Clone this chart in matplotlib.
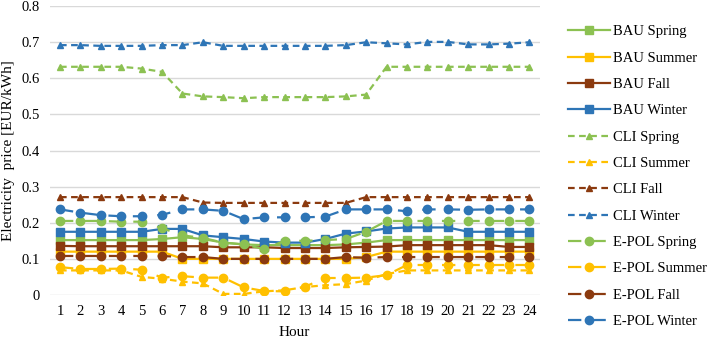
import matplotlib.pyplot as plt
import numpy as np

hours = list(range(1, 25))

bau_spring = [0.152, 0.152, 0.152, 0.152, 0.152, 0.155, 0.160, 0.155, 0.145, 0.140, 0.138, 0.138,
              0.138, 0.138, 0.140, 0.145, 0.152, 0.152, 0.152, 0.152, 0.152, 0.152, 0.152, 0.152]
bau_summer = [0.120, 0.120, 0.120, 0.120, 0.120, 0.120, 0.100, 0.100, 0.100, 0.100, 0.100, 0.100,
              0.100, 0.100, 0.100, 0.105, 0.120, 0.120, 0.120, 0.120, 0.120, 0.120, 0.120, 0.120]
bau_fall = [0.136, 0.135, 0.135, 0.135, 0.135, 0.135, 0.135, 0.135, 0.132, 0.132, 0.132, 0.130,
            0.130, 0.130, 0.132, 0.133, 0.134, 0.138, 0.138, 0.138, 0.138, 0.138, 0.133, 0.133]
bau_winter = [0.175, 0.175, 0.175, 0.175, 0.175, 0.183, 0.183, 0.165, 0.160, 0.155, 0.148, 0.145,
              0.145, 0.155, 0.170, 0.176, 0.184, 0.187, 0.187, 0.187, 0.175, 0.175, 0.175, 0.175]

cli_spring = [0.632, 0.632, 0.632, 0.632, 0.627, 0.618, 0.558, 0.550, 0.548, 0.545, 0.548, 0.548,
              0.548, 0.548, 0.550, 0.555, 0.632, 0.632, 0.632, 0.632, 0.632, 0.632, 0.632, 0.632]
cli_summer = [0.068, 0.068, 0.068, 0.068, 0.050, 0.045, 0.037, 0.032, 0.003, 0.003, 0.010, 0.013,
              0.022, 0.027, 0.030, 0.040, 0.058, 0.068, 0.068, 0.068, 0.068, 0.068, 0.068, 0.068]
cli_fall = [0.271, 0.271, 0.271, 0.271, 0.271, 0.271, 0.271, 0.256, 0.255, 0.255, 0.255, 0.255,
            0.255, 0.255, 0.255, 0.271, 0.271, 0.271, 0.271, 0.271, 0.271, 0.271, 0.271, 0.271]
cli_winter = [0.692, 0.692, 0.690, 0.690, 0.690, 0.692, 0.692, 0.700, 0.690, 0.690, 0.690, 0.690,
              0.690, 0.690, 0.692, 0.700, 0.697, 0.694, 0.701, 0.701, 0.694, 0.694, 0.696, 0.700]

epol_spring = [0.205, 0.205, 0.205, 0.203, 0.203, 0.185, 0.165, 0.158, 0.145, 0.140, 0.127, 0.150,
               0.150, 0.152, 0.155, 0.175, 0.205, 0.205, 0.205, 0.205, 0.205, 0.205, 0.205, 0.205]
epol_summer = [0.077, 0.072, 0.072, 0.073, 0.070, 0.048, 0.052, 0.048, 0.048, 0.021, 0.011, 0.010,
               0.023, 0.047, 0.047, 0.048, 0.055, 0.083, 0.083, 0.083, 0.083, 0.083, 0.083, 0.083]
epol_fall = [0.108, 0.108, 0.108, 0.108, 0.108, 0.108, 0.105, 0.105, 0.100, 0.100, 0.100, 0.100,
             0.100, 0.100, 0.105, 0.103, 0.105, 0.105, 0.105, 0.105, 0.105, 0.105, 0.105, 0.105]
epol_winter = [0.237, 0.228, 0.221, 0.218, 0.218, 0.222, 0.237, 0.237, 0.233, 0.210, 0.215, 0.215,
               0.215, 0.217, 0.237, 0.237, 0.237, 0.232, 0.237, 0.237, 0.236, 0.237, 0.237, 0.237]

GREEN = '#8CC152'
GOLD = '#FFC000'
BROWN = '#8B3A0F'
BLUE = '#2E75B6'

plt.rcParams['font.family'] = ['Liberation Serif', 'DejaVu Serif']

fig, ax = plt.subplots(figsize=(7.11, 3.41), dpi=100)
fig.subplots_adjust(left=0.070, right=0.759, top=0.982, bottom=0.135)

series = [
    ('BAU Spring', bau_spring, GREEN, 'bau'),
    ('BAU Summer', bau_summer, GOLD, 'bau'),
    ('BAU Fall', bau_fall, BROWN, 'bau'),
    ('BAU Winter', bau_winter, BLUE, 'bau'),
    ('CLI Spring', cli_spring, GREEN, 'cli'),
    ('CLI Summer', cli_summer, GOLD, 'cli'),
    ('CLI Fall', cli_fall, BROWN, 'cli'),
    ('CLI Winter', cli_winter, BLUE, 'cli'),
    ('E-POL Spring', epol_spring, GREEN, 'epol'),
    ('E-POL Summer', epol_summer, GOLD, 'epol'),
    ('E-POL Fall', epol_fall, BROWN, 'epol'),
    ('E-POL Winter', epol_winter, BLUE, 'epol'),
]

for name, vals, col, kind in series:
    if kind == 'bau':
        ax.plot(hours, vals, color=col, lw=1.6, marker='s', ms=5.5, label=name)
    elif kind == 'cli':
        ax.plot(hours, vals, color=col, lw=1.6, dashes=(3, 2), marker='^', ms=5, label=name)
    else:
        ax.plot(hours, vals, color=col, lw=1.6, dashes=(6, 5), marker='o', ms=6, label=name)

ax.set_xlim(0.5, 24.5)
ax.set_ylim(0, 0.8)
ax.set_xticks(hours)
ax.set_yticks(np.arange(0, 0.81, 0.1))
ax.set_yticklabels(['0'] + [f'{v:.1f}' for v in np.arange(0.1, 0.81, 0.1)])
ax.grid(axis='y', color='#d9d9d9', lw=1)
ax.set_axisbelow(True)
for s in ax.spines.values():
    s.set_visible(False)
ax.tick_params(length=0, labelsize=10.5, pad=7)
ax.set_xlabel('Hour', fontsize=11, labelpad=6)
ax.set_ylabel('Electricity  price [EUR/kWh]', fontsize=11, labelpad=5)

ax.legend(loc='center left', bbox_to_anchor=(1.045, 0.41), frameon=False, fontsize=10.5,
          handlelength=2.9, labelspacing=0.9, handletextpad=0.25, borderaxespad=0)

plt.savefig('out.png', dpi=100)
